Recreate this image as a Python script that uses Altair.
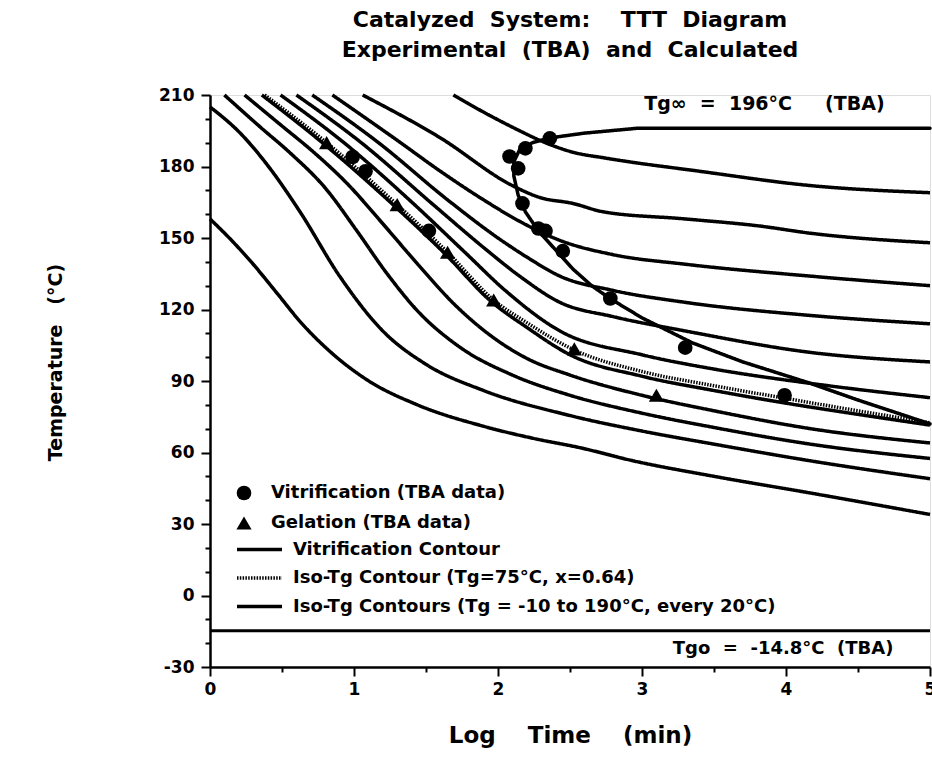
import altair as alt
import pandas as pd

FONT = "DejaVu Sans"
NB = "\u00a0"

# ---------------- data ----------------
# Iso-Tg contours (Tg = -10 ... 190 degC, every 20 degC): log time (min) and temperature (degC)
tg_m10_x = [0, 0.15, 0.30, 0.47, 0.625, 0.85, 1.09, 1.44, 1.90, 2.24, 2.57, 2.94, 3.5, 4.17, 5.0]
tg_m10_t = [158, 149, 139, 126.5, 115, 101.5, 90.5, 80, 71, 66, 62, 56.5, 50, 43, 34]

tg_10_x = [0, 0.21, 0.40, 0.625, 0.90, 1.2, 1.5, 1.9, 2.5, 3.0, 3.5, 4.17, 5.0]
tg_10_t = [205, 194, 180.5, 161, 134, 111, 97, 86, 75.5, 69, 63.5, 56.5, 49]

tg_30_x = [0.10, 0.35, 0.56, 0.80, 1.02, 1.23, 1.44, 1.74, 2.1, 2.5, 3.0, 3.5, 4.17, 5.0]
tg_30_t = [210, 196.5, 185.5, 171, 153, 135, 119.5, 104, 92.5, 84, 76.5, 70.5, 63.5, 57.5]

tg_50_x = [0.24, 0.50, 0.72, 0.95, 1.2, 1.45, 1.7, 1.95, 2.2, 2.5, 3.0, 3.5, 4.17, 5.0]
tg_50_t = [210, 197, 186, 173, 156, 138.5, 122, 109, 99.5, 92.5, 84, 77.5, 70, 64]

tg_70_x = [0.36, 0.79, 1.28, 1.63, 1.95, 2.2, 2.5, 3.0, 3.5, 3.97, 4.5, 5.0]
tg_70_t = [210, 189.5, 163.5, 143.5, 123.5, 112.5, 101, 92, 86, 81, 76, 71.5]

tg_90_x = [0.49, 0.93, 1.42, 1.77, 2.05, 2.43, 3.0, 3.5, 4.17, 5.0]
tg_90_t = [210, 190, 164, 144, 128, 111, 101, 95, 89, 83]

tg_110_x = [0.60, 1.05, 1.55, 1.9, 2.15, 2.43, 2.8, 3.3, 4.17, 5.0]
tg_110_t = [210, 190, 164, 146, 134, 123, 117, 111, 102, 98]

tg_130_x = [0.71, 1.17, 1.65, 2.0, 2.2, 2.43, 2.8, 3.3, 4.17, 5.0]
tg_130_t = [210, 190, 166, 150, 142, 134, 128, 123, 117.5, 114]

tg_150_x = [0.85, 1.30, 1.60, 1.9, 2.15, 2.43, 2.8, 3.3, 4.17, 5.0]
tg_150_t = [210, 191, 178, 166, 157, 149, 143, 139, 134, 130]

tg_170_x = [1.06, 1.60, 2.10, 2.29, 2.52, 2.73, 3.3, 3.82, 4.17, 5.0]
tg_170_t = [210, 192, 172, 167, 164.5, 161, 158, 155, 152, 148]

tg_190_x = [1.69, 1.94, 2.15, 2.29, 2.52, 2.75, 3.4, 4.17, 5.0]
tg_190_t = [210, 201.5, 195, 191, 186, 183.5, 178, 172, 169]

# Iso-Tg contour Tg = 75 degC (x = 0.64), dotted
tg_75_x = [0.38, 0.81, 1.30, 1.65, 1.97, 2.2, 2.53, 3.0, 3.5, 3.97, 4.5, 5.0]
tg_75_t = [210, 190, 164, 144, 124, 114.5, 103, 94, 88, 83, 77.5, 72.5]

# Vitrification contour (runs into Tg_inf = 196 degC)
vit_x = [5.0, 4.5, 4.17, 3.7, 3.35, 3.0, 2.78, 2.65, 2.52, 2.40, 2.28, 2.19, 2.14, 2.11, 2.11, 2.15, 2.24, 2.36, 2.6, 2.96, 5.0]
vit_t = [72, 82, 89, 98, 106, 116.5, 124.5, 130, 137, 145, 153, 161, 168, 176, 182, 187, 190, 192, 194, 196, 196]

# TBA data points
vit_data_x = [2.36, 2.19, 2.08, 2.14, 2.17, 2.28, 2.33, 2.45, 2.78, 3.30, 3.99, 0.99, 1.08, 1.52]
vit_data_t = [191.8, 187.6, 184.2, 179.2, 164.5, 154, 153, 144.5, 124.6, 104, 84, 184, 178, 153]
gel_data_x = [0.81, 1.30, 1.65, 1.97, 2.53, 3.10]
gel_data_t = [190, 164, 144, 124, 103.5, 84]

tg0_value = [-14.8]

# annotations
ann_text = ["Tg\u221e" + NB * 2 + "=" + NB * 2 + "196\u00b0C" + NB * 5 + "(TBA)",
            "Tgo" + NB * 2 + "=" + NB * 2 + "-14.8\u00b0C" + NB * 2 + "(TBA)"]
ann_x = [3.85, 3.98]
ann_t = [206.3, -22.3]
ann_size = [19, 18]

x_ticks = [i * 0.5 for i in range(11)]
y_ticks = list(range(-30, 211, 10))

ISO = "Iso-Tg Contours (Tg = -10 to 190\u00b0C, every 20\u00b0C)"
ISO75 = "Iso-Tg Contour (Tg=75\u00b0C, x=0.64)"
VITC = "Vitrification Contour"
VITD = "Vitrification (TBA data)"
GELD = "Gelation (TBA data)"

# ---------------- tables ----------------
contours = [
    ("-10", tg_m10_x, tg_m10_t, ISO), ("10", tg_10_x, tg_10_t, ISO),
    ("30", tg_30_x, tg_30_t, ISO), ("50", tg_50_x, tg_50_t, ISO),
    ("70", tg_70_x, tg_70_t, ISO), ("90", tg_90_x, tg_90_t, ISO),
    ("110", tg_110_x, tg_110_t, ISO), ("130", tg_130_x, tg_130_t, ISO),
    ("150", tg_150_x, tg_150_t, ISO), ("170", tg_170_x, tg_170_t, ISO),
    ("190", tg_190_x, tg_190_t, ISO), ("75", tg_75_x, tg_75_t, ISO75),
]
rows = []
for name, xs, ts, kind in contours:
    for i, (x, t) in enumerate(zip(xs, ts)):
        rows.append({"line": name, "kind": kind, "i": i, "logt": x, "T": t})
iso_df = pd.DataFrame(rows)
vit_df = pd.DataFrame({"line": "vit", "kind": VITC, "i": list(range(len(vit_x))),
                       "logt": vit_x, "T": vit_t})

pts = [{"logt": x, "T": t, "kind": VITD} for x, t in zip(vit_data_x, vit_data_t)]
pts += [{"logt": x, "T": t, "kind": GELD} for x, t in zip(gel_data_x, gel_data_t)]
pts_df = pd.DataFrame(pts)

tg0_df = pd.DataFrame({"T": tg0_value})
ann_df = pd.DataFrame({"logt": ann_x, "T": ann_t, "label": ann_text, "fs": ann_size})

xscale = alt.Scale(domain=[0, 5], nice=False, zero=False)
yscale = alt.Scale(domain=[-30, 210], nice=False, zero=False)

x_axis = alt.Axis(
    values=x_ticks, title="Log" + NB * 4 + "Time" + NB * 4 + "(min)",
    labelExpr="datum.value % 1 === 0 ? '' + datum.value : ''",
    tickSize={"condition": {"test": "datum.value % 1 === 0", "value": 9}, "value": 5},
    labelFontSize=17,
    labelFont=FONT, labelFontWeight="bold", labelPadding=5,
    labelOverlap=False, labelFlush=False, labelColor="black",
    titleFontSize=23, titleFont=FONT, titleFontWeight="bold", titleColor="black",
    titleX=360, titleY=68, titleBaseline="middle", titleAlign="center",
    domainColor="black", domainWidth=2.5, tickColor="black", tickWidth=2, grid=False,
)
y_axis = alt.Axis(
    values=y_ticks, title="Temperature" + NB * 3 + "(\u00b0C)",
    labelExpr="datum.value % 30 === 0 ? '' + datum.value : ''",
    tickSize={"condition": {"test": "datum.value % 30 === 0", "value": 9}, "value": 5},
    labelFontSize=17,
    labelFont=FONT, labelFontWeight="bold", labelPadding=7,
    labelOverlap=False, labelFlush=False, labelColor="black",
    titleFontSize=19, titleFont=FONT, titleFontWeight="bold", titleColor="black",
    titleX=-155, titleY=267, titleAngle=-90, titleBaseline="middle", titleAlign="center",
    domainColor="black", domainWidth=2.5, tickColor="black", tickWidth=2, grid=False,
)

X = alt.X("logt:Q", scale=xscale, axis=x_axis)
Y = alt.Y("T:Q", scale=yscale, axis=y_axis)

line_legend = alt.Legend(
    orient="none", legendX=25, legendY=444, title=None,
    labelFontSize=18, labelFont=FONT, labelFontWeight="bold", labelLimit=700, labelColor="black",
    symbolSize=2025, labelOffset=9, rowPadding=7.5, padding=0, clipHeight=21,
    symbolStrokeColor="black",
)
dash_enc = alt.StrokeDash(
    "kind:N",
    scale=alt.Scale(domain=[VITC, ISO75, ISO], range=[[1, 0], [1.5, 1.3], [1, 0]]),
    legend=line_legend,
)
width_enc = alt.StrokeWidth(
    "kind:N",
    scale=alt.Scale(domain=[VITC, ISO75, ISO], range=[3.5, 3.5, 2.2]),
    legend=line_legend,
)

iso_lines = alt.Chart(iso_df).mark_line(color="black", strokeCap="butt", interpolate="monotone").encode(
    x=X, y=Y, detail="line:N", order="i:Q", strokeDash=dash_enc, strokeWidth=width_enc,
)
vit_line = alt.Chart(vit_df).mark_line(color="black", strokeCap="round", strokeJoin="round").encode(
    x=X, y=Y, detail="line:N", order="i:Q", strokeDash=dash_enc, strokeWidth=width_enc,
)

pt_legend = alt.Legend(
    orient="none", legendX=25, legendY=389, title=None,
    labelFontSize=18, labelFont=FONT, labelFontWeight="bold", labelLimit=700, labelColor="black",
    labelOffset=18, rowPadding=9, padding=0,
    symbolFillColor="black", symbolStrokeColor="black", symbolOpacity=1,
)
points = alt.Chart(pts_df).mark_point(filled=True, color="black", opacity=1).encode(
    x=X,
    y=Y,
    shape=alt.Shape(
        "kind:N",
        scale=alt.Scale(domain=[VITD, GELD], range=["circle", "triangle-up"]),
        legend=pt_legend,
    ),
    size=alt.Size(
        "kind:N",
        scale=alt.Scale(domain=[VITD, GELD], range=[215, 230]),
        legend=pt_legend,
    ),
)

tg0 = alt.Chart(tg0_df).mark_rule(color="black", strokeWidth=3).encode(y=Y)

ann = alt.Chart(ann_df).mark_text(
    font=FONT, fontWeight="bold", color="black", align="center", baseline="middle"
).encode(
    x=X, y=Y, text="label:N",
    size=alt.Size("fs:Q", scale=None, legend=None),
)

chart = alt.layer(iso_lines, vit_line, points, tg0, ann).properties(
    width=720, height=572,
    title=alt.TitleParams(
        text=["Catalyzed" + NB * 2 + "System:" + NB * 4 + "TTT" + NB * 2 + "Diagram",
              "Experimental" + NB * 2 + "(TBA)" + NB * 2 + "and" + NB * 2 + "Calculated"],
        font=FONT, fontSize=22, fontWeight="bold", color="black",
        anchor="middle", lineHeight=30, offset=24,
    ),
    autosize=alt.AutoSizeParams(type="none"),
    padding={"left": 210, "top": 95, "right": 2, "bottom": 99},
).configure_view(stroke="black", strokeWidth=2).configure_axis(
    labelOverlap=False
).configure(background="white")

chart.save("out.html", embed_options={"renderer": "svg", "actions": False})
